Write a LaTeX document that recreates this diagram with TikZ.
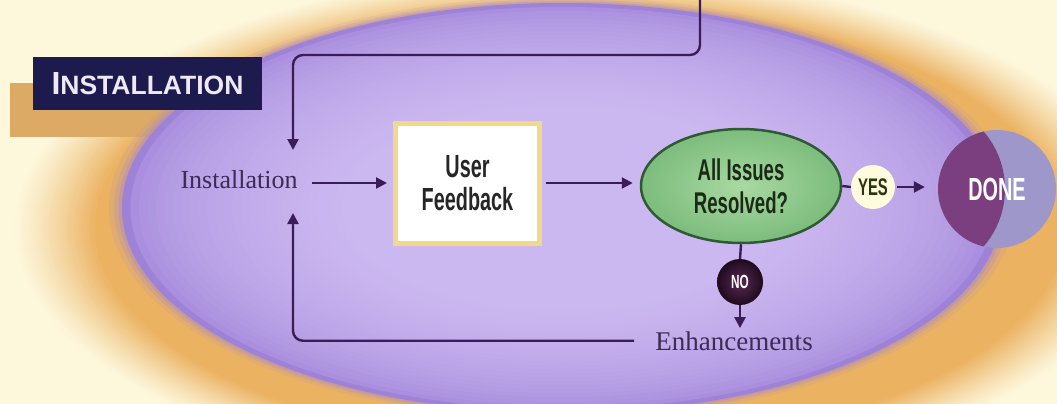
\documentclass[tikz,border=0pt]{standalone}
\usepackage{fontspec}
\setmainfont{Liberation Serif}
\newfontfamily\condfont[FakeStretch=0.62]{Liberation Sans Bold}
\newfontfamily\tagfont{Liberation Sans Bold}
\usetikzlibrary{arrows.meta,shapes.geometric,shadows}

% palette
\definecolor{cream}{HTML}{FDF7DC}
\definecolor{glowor}{HTML}{EBB262}
\definecolor{lav0}{HTML}{CCB8F0}
\definecolor{lav3}{HTML}{9E82D8}
\definecolor{tanbar}{HTML}{DCAA64}
\definecolor{navy}{HTML}{1D1A4E}
\definecolor{tagtext}{HTML}{EDEAF6}
\definecolor{linec}{HTML}{3A1C58}
\definecolor{fbedge}{HTML}{F1D98A}
\definecolor{fbshadow}{HTML}{D8A468}
\definecolor{fbtext}{HTML}{262626}
\definecolor{qin}{HTML}{A9D9A2}
\definecolor{qout}{HTML}{7CBC7C}
\definecolor{qedge}{HTML}{2D5A33}
\definecolor{qtext}{HTML}{1A2A16}
\definecolor{yesfill}{HTML}{FFFBDD}
\definecolor{yestext}{HTML}{2B3512}
\definecolor{noin}{HTML}{5A2A52}
\definecolor{noout}{HTML}{1E0A1E}
\definecolor{donebg}{HTML}{9D97CA}
\definecolor{doneplum}{HTML}{7B3E7E}
\definecolor{serifc}{HTML}{3C2C55}

\tikzset{
  conn/.style={draw=linec, line width=2.4pt},
  flow/.style={conn, -{Triangle[length=11pt,width=11pt]}},
  tagbox/.style={rectangle, fill=navy, minimum width=229pt, minimum height=53pt,
    inner sep=0pt, text=tagtext},
  serifword/.style={inner sep=0pt, text=serifc, font=\fontsize{26}{26}\selectfont},
  fbbox/.style={rectangle, fill=white, draw=fbedge, line width=5pt,
    minimum width=144pt, minimum height=120pt, align=center, text=fbtext,
    font=\condfont\fontsize{32}{33}\selectfont,
    drop shadow={shadow xshift=2pt, shadow yshift=-3pt, fill=fbshadow, opacity=1}},
  qell/.style={ellipse, draw=qedge, line width=2.5pt, inner color=qin, outer color=qout,
    minimum width=200pt, minimum height=114pt, inner sep=0pt, align=center,
    text=qtext, font=\condfont\fontsize{30}{33}\selectfont},
  yesdot/.style={circle, fill=yesfill, minimum size=44pt, inner sep=0pt,
    text=yestext, font=\condfont\fontsize{24}{24}\selectfont},
  nodot/.style={circle, inner color=noin, outer color=noout, minimum size=46pt,
    inner sep=0pt, text=white, font=\condfont\fontsize{19}{19}\selectfont},
  donedot/.style={circle, fill=donebg, minimum size=118pt, inner sep=0pt,
    text=white, font=\condfont\fontsize{32}{32}\selectfont,
    path picture={\fill[doneplum] ([xshift=-80pt]path picture bounding box.center) circle (88pt);}},
}

\begin{document}
\begin{tikzpicture}[x=1pt, y=-1pt]
  \useasboundingbox (0,0) rectangle (1057,404);

  \begin{scope}
    \clip (0,0) rectangle (1057,404);
    \fill[cream] (0,0) rectangle (1057,404);
    % warm halo: nested ellipses fading from cream to orange
    \foreach \i in {0,...,32}{
      \pgfmathsetmacro\s{1.17-\i*0.17/32}
      \pgfmathsetmacro\p{100*(\i/32)^1.2}
      \pgfmathsetmacro\rx{\s*485}
      \pgfmathsetmacro\ry{\s*220}
      \fill[glowor!\p!cream] (580,228) ellipse [x radius=\rx pt, y radius=\ry pt];
    }
    \fill[tanbar] (10,83) rectangle (200,137);
    % soft rim of the lavender oval
    \foreach \k/\o in {1.03/0.12,1.018/0.2,1.008/0.3}{
      \pgfmathsetmacro\rx{\k*440}
      \pgfmathsetmacro\ry{\k*205}
      \fill[lav3, opacity=\o] (562,208) ellipse [x radius=\rx pt, y radius=\ry pt];
    }
    % lavender oval, darker towards its rim
    \foreach \i in {0,...,26}{
      \pgfmathsetmacro\s{1-\i*0.5/26}
      \pgfmathsetmacro\p{100*(\i/26)^0.45}
      \pgfmathsetmacro\rx{\s*440}
      \pgfmathsetmacro\ry{\s*205}
      \fill[lav0!\p!lav3] (562,208) ellipse [x radius=\rx pt, y radius=\ry pt];
    }
  \end{scope}

  % section tag
  \node[tagbox] (tag) at (147.5,83.5)
    {\tagfont{\fontsize{32}{32}\selectfont I}\fontsize{26.5}{26.5}\selectfont NSTALLATION};

  % flow nodes
  \node[serifword, anchor=base] (inst) at (239,188) {Installation};
  \node[fbbox] (fb) at (467.5,183) {User\\Feedback};
  \node[qell] (q) at (741,186) {All Issues\\Resolved?};
  \node[yesdot] (yes) at (873,187) {YES};
  \node[donedot] (done) at (997,189) {DONE};
  \node[nodot] (no) at (740,282) {NO};
  \node[serifword, anchor=base, font=\fontsize{27}{27}\selectfont] (enh) at (734,350) {Enhancements};

  % junction points beside the Installation label
  \coordinate (topin) at (700,0);
  \coordinate (bend) at (293,55);
  \coordinate (hubN) at (293,150);
  \coordinate (hubS) at (293,213);

  % connectors
  \draw[flow, rounded corners=10pt] (topin) |- (bend) -- (hubN);
  \draw[flow, rounded corners=10pt, shorten <=21pt] (enh.west) -| (hubS);
  \draw[flow, shorten <=14pt, shorten >=6pt] (inst.east |- fb.west) -- (fb.west);
  \draw[flow, shorten <=4pt, shorten >=7pt] (fb.east) -- (fb.east -| q.west);
  \draw[conn] (q.east) -- (yes.west);
  \draw[flow, shorten <=2pt, shorten >=13pt] (yes.east) -- (yes.east -| done.west);
  \draw[conn] (q.south) -- (no.north);
  \draw[flow, shorten >=3pt] (no.south) -- (no.south |- enh.north);
\end{tikzpicture}
\end{document}
